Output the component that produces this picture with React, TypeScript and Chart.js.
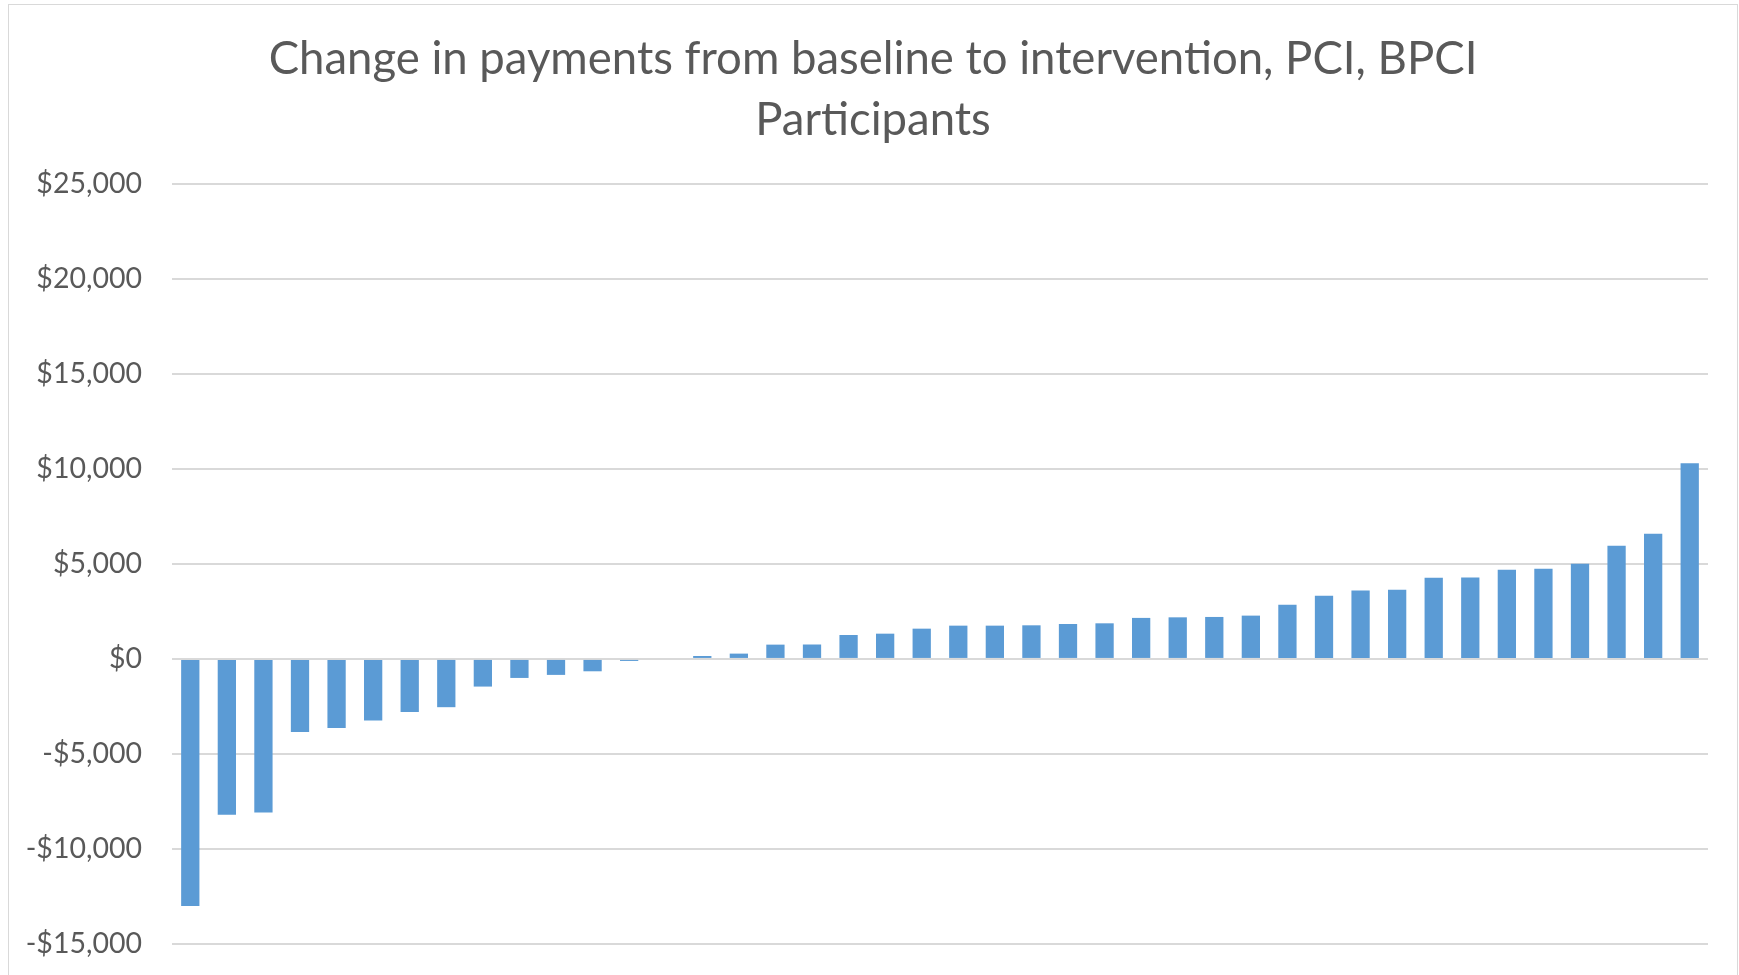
import React, { useEffect, useRef } from "react";
import { Chart, registerables } from "chart.js";

Chart.register(...registerables);

const titleLines = ["Change in payments from baseline to intervention, PCI, BPCI", "Participants"];

const paymentChanges = [
  -13000, -8200, -8080, -3850, -3630, -3240, -2790, -2540, -1455, -1000, -840, -650, -105, 0,
  155, 280, 753, 760, 1260, 1330, 1594, 1752, 1752, 1770, 1840, 1875, 2160, 2190, 2210, 2280,
  2856, 3329, 3609, 3644, 4275, 4292, 4695, 4748, 5011, 5957, 6588, 10302,
];

const participantLabels = paymentChanges.map((_, i) => `Participant ${i + 1}`);

const yMin = -15000;
const yMax = 25000;
const yStep = 5000;

const fmt = (v: number) => (v < 0 ? "-" : "") + "$" + Math.abs(v).toLocaleString("en-US");

export default function App() {
  const ref = useRef<HTMLCanvasElement | null>(null);

  useEffect(() => {
    if (!ref.current) return;
    const chart = new Chart(ref.current, {
      type: "bar",
      data: {
        labels: participantLabels,
        datasets: [
          {
            data: paymentChanges,
            backgroundColor: "#5B9BD5",
            borderWidth: 0,
            categoryPercentage: 1,
            barPercentage: 0.5,
            yAxisID: "y",
          },
        ],
      },
      options: {
        responsive: false,
        animation: false,
        layout: { padding: { left: 0, right: 0, top: 0, bottom: 0 } },
        plugins: {
          legend: { display: false },
          tooltip: { enabled: false },
          title: {
            display: true,
            text: titleLines,
            color: "#595959",
            font: { family: "Lato", size: 45.5, weight: "normal", lineHeight: 61 / 45.5 },
            padding: { top: 24, bottom: 33 },
          },
        },
        scales: {
          x: { display: false },
          y: {
            min: yMin,
            max: yMax,
            afterFit: (s: any) => {
              s.width = 163;
            },
            ticks: {
              stepSize: yStep,
              padding: 30,
              color: "#595959",
              font: { family: "Lato", size: 28.5 },
              callback: (v: any) => fmt(Number(v)),
            },
            grid: { color: "#d9d9d9", lineWidth: 2, drawTicks: false },
            border: { display: false },
          },
          yRight: {
            position: "right",
            min: yMin,
            max: yMax,
            afterFit: (s: any) => {
              s.width = 29;
            },
            ticks: { display: false },
            grid: { display: false, drawTicks: false },
            border: { display: false },
          },
        },
      },
    });
    return () => chart.destroy();
  }, []);

  return (
    <div style={{ position: "fixed", inset: 0, overflow: "hidden", background: "#fff" }}>
      <div
        style={{
          position: "absolute",
          left: 8,
          top: 4,
          width: 1730,
          height: 1100,
          border: "1px solid #d9d9d9",
          boxSizing: "border-box",
        }}
      >
        <canvas ref={ref} width={1728} height={986} style={{ display: "block" }} />
      </div>
    </div>
  );
}
